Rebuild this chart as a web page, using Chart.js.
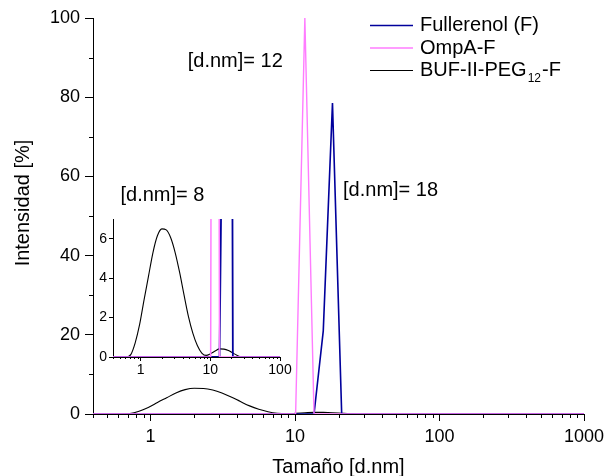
<!DOCTYPE html>
<html>
<head>
<meta charset="utf-8">
<script src="https://cdn.jsdelivr.net/npm/chart.js@4/dist/chart.umd.min.js"></script>
<style>
  html, body { margin: 0; padding: 0; background: #fff; }
  #wrap { position: relative; width: 605px; height: 476px; background: #fff; }
  #main { position: absolute; left: 0; top: 0; }
  #inset { position: absolute; left: 60px; top: 200px; }
</style>
</head>
<body>
<div id="wrap">
  <canvas id="main" width="605" height="476"></canvas>
  <canvas id="inset" width="240" height="190"></canvas>
</div>
<script>
// Size classes (hydrodynamic diameter, nm)
const sizes = [0.4, 0.4632, 0.5365, 0.6213, 0.7195, 0.8332, 0.9649, 1.117, 1.294, 1.499,
  1.736, 2.01, 2.328, 2.696, 3.122, 3.615, 4.187, 4.849, 5.615, 6.503,
  7.531, 8.721, 10.1, 11.7, 13.54, 15.69, 18.17, 21.04, 24.36, 28.21,
  32.67, 37.84, 43.82, 50.75, 58.77, 68.06, 78.82, 91.28, 105.7, 122.4,
  141.8, 164.2, 190.1, 220.2, 255, 295.3, 342, 396.1, 458.7, 531.2,
  615.1, 712.4, 825, 955.4, 1106];

// Intensity distributions (%)
const fullerenol = [0, 0, 0, 0, 0, 0, 0, 0, 0, 0,
  0, 0, 0, 0, 0, 0, 0, 0, 0, 0,
  0, 0, 0, 0, 0, 21, 78.5, 0, 0, 0,
  0, 0, 0, 0, 0, 0, 0, 0, 0, 0,
  0, 0, 0, 0, 0, 0, 0, 0, 0, 0,
  0, 0, 0, 0, 0];
const ompA = [0, 0, 0, 0, 0, 0, 0, 0, 0, 0,
  0, 0, 0, 0, 0, 0, 0, 0, 0, 0,
  0, 0, 0, 100, 0, 0, 0, 0, 0, 0,
  0, 0, 0, 0, 0, 0, 0, 0, 0, 0,
  0, 0, 0, 0, 0, 0, 0, 0, 0, 0,
  0, 0, 0, 0, 0];
const bufPeg = [0, 0, 0, 0, 0.12, 0.72, 1.65, 2.9, 4.1, 5.3,
  6.15, 6.5, 6.45, 6.05, 5.3, 4.3, 3.15, 2.05, 1.2, 0.58,
  0.2, 0.08, 0.17, 0.3, 0.41, 0.4, 0.33, 0.2, 0.08, 0,
  0, 0, 0, 0, 0, 0, 0, 0, 0, 0,
  0, 0, 0, 0, 0, 0, 0, 0, 0, 0,
  0, 0, 0, 0, 0];

const seriesNames = ['Fullerenol (F)', 'OmpA-F', 'BUF-II-PEG_12-F'];
const peakLabels = ['[d.nm]= 12', '[d.nm]= 18', '[d.nm]= 8'];

// Tick values
const mainXTicks = [0.4, 0.5, 0.6, 0.7, 0.8, 0.9, 1, 2, 3, 4, 5, 6, 7, 8, 9,
  10, 20, 30, 40, 50, 60, 70, 80, 90, 100, 200, 300, 400, 500, 600, 700, 800, 900, 1000];
const insetXTicks = [0.4, 0.5, 0.6, 0.7, 0.8, 0.9, 1, 2, 3, 4, 5, 6, 7, 8, 9,
  10, 20, 30, 40, 50, 60, 70, 80, 90, 100];

const FONT = '"Liberation Sans", Arial, Helvetica, sans-serif';
const BLUE = '#00009c';
const PINK = '#ff7cff';
const BLACK = '#000000';

const isDecade = v => Math.abs(Math.log10(v) - Math.round(Math.log10(v))) < 1e-6;
const toPoints = arr => sizes.map((s, i) => ({ x: s, y: arr[i] }));

function datasets(widths) {
  // first dataset is drawn on top
  return [
    { label: seriesNames[1], data: toPoints(ompA), borderColor: PINK, borderWidth: widths.pink, tension: 0 },
    { label: seriesNames[0], data: toPoints(fullerenol), borderColor: BLUE, borderWidth: widths.blue, tension: 0 },
    { label: seriesNames[2], data: toPoints(bufPeg), borderColor: BLACK, borderWidth: widths.black, cubicInterpolationMode: 'monotone' }
  ];
}

// keep the plot area where the axes put it, regardless of label overhang
const noOverhang = s => {
  s.paddingLeft = 0; s.paddingRight = 0; s.paddingTop = 0; s.paddingBottom = 0;
};

// short minor tick marks next to the library's major ones
const minorTicks = {
  id: 'minorTicks',
  afterDraw(chart, args, o) {
    const { ctx, scales: { x, y } } = chart;
    ctx.save();
    ctx.strokeStyle = '#000';
    ctx.lineWidth = 1;
    ctx.beginPath();
    x.ticks.forEach(t => {
      if (isDecade(t.value)) return;
      const px = Math.round(x.getPixelForValue(t.value)) + 0.5;
      ctx.moveTo(px, x.top);
      ctx.lineTo(px, x.top + o.len);
    });
    y.ticks.forEach(t => {
      if (t.value % o.yStep === 0) return;
      const py = Math.round(y.getPixelForValue(t.value)) + 0.5;
      ctx.moveTo(y.right, py);
      ctx.lineTo(y.right - o.len, py);
    });
    ctx.stroke();
    ctx.restore();
  }
};

// peak labels, legend and axis titles
const decorations = {
  id: 'decorations',
  afterDraw(chart, args, o) {
    const { ctx, scales: { x, y }, chartArea: a } = chart;
    ctx.save();
    ctx.fillStyle = '#000';
    ctx.textAlign = 'left';
    ctx.textBaseline = 'alphabetic';
    ctx.font = `20px ${FONT}`;
    o.peaks.forEach((p, i) => {
      ctx.fillText(peakLabels[i], x.getPixelForValue(p.x), y.getPixelForValue(p.y));
    });

    // legend
    const colors = [BLUE, PINK, BLACK];
    const widths = [1.5, 1.5, 1];
    const L = o.legend;
    seriesNames.forEach((name, i) => {
      const ly = L.top + i * L.row;
      ctx.strokeStyle = colors[i];
      ctx.lineWidth = widths[i];
      ctx.beginPath();
      ctx.moveTo(L.x0, ly + 0.5);
      ctx.lineTo(L.x1, ly + 0.5);
      ctx.stroke();
      let tx = L.text;
      const parts = name.split('_');
      ctx.font = `20px ${FONT}`;
      ctx.fillText(parts[0], tx, ly + L.shift);
      tx += ctx.measureText(parts[0]).width;
      if (parts.length > 1) {
        const sub = parts[1].match(/^(\d+)(.*)$/);
        ctx.font = `12px ${FONT}`;
        ctx.fillText(sub[1], tx + 1, ly + L.shift + 6);
        tx += ctx.measureText(sub[1]).width + 2;
        ctx.font = `20px ${FONT}`;
        ctx.fillText(sub[2], tx, ly + L.shift);
      }
    });

    // axis titles
    ctx.font = `20px ${FONT}`;
    ctx.textAlign = 'center';
    ctx.fillText('Tamaño [d.nm]', (a.left + a.right) / 2, chart.height - 3);
    ctx.translate(29, (a.top + a.bottom) / 2 - 13);
    ctx.rotate(-Math.PI / 2);
    ctx.fillText('Intensidad [%]', 0, 0);
    ctx.restore();
  }
};

Chart.register(minorTicks, decorations);

new Chart(document.getElementById('main'), {
  type: 'line',
  data: { datasets: datasets({ pink: 1.4, blue: 1.6, black: 1.1 }) },
  options: {
    responsive: false,
    animation: false,
    events: [],
    layout: { padding: { top: 18, right: 21, left: 0, bottom: 0 } },
    elements: { point: { radius: 0 } },
    scales: {
      x: {
        type: 'logarithmic', min: 0.4, max: 1000,
        afterBuildTicks: s => { s.ticks = mainXTicks.map(v => ({ value: v })); },
        afterFit: s => { s.height = 62; noOverhang(s); },
        ticks: {
          autoSkip: false, maxRotation: 0, minRotation: 0, padding: 5, color: '#000',
          font: { family: FONT, size: 18 },
          callback: v => (isDecade(v) ? String(v) : '')
        },
        grid: {
          drawOnChartArea: false, drawTicks: true, tickLength: 7,
          tickColor: c => (c.tick && isDecade(c.tick.value) ? '#000' : 'rgba(0,0,0,0)')
        },
        border: { display: true, color: '#000', width: 1 }
      },
      y: {
        type: 'linear', min: 0, max: 100,
        afterFit: s => { s.width = 93; noOverhang(s); },
        ticks: {
          stepSize: 10, padding: 5, color: '#000',
          font: { family: FONT, size: 18 },
          callback: v => (v % 20 === 0 ? String(v) : '')
        },
        grid: {
          drawOnChartArea: false, drawTicks: true, tickLength: 8,
          tickColor: c => (c.tick && c.tick.value % 20 === 0 ? '#000' : 'rgba(0,0,0,0)')
        },
        border: { display: true, color: '#000', width: 1 }
      }
    },
    plugins: {
      legend: { display: false },
      tooltip: { enabled: false },
      minorTicks: { len: 4, yStep: 20 },
      decorations: {
        peaks: [{ x: 1.81, y: 87.6 }, { x: 21.5, y: 55.1 }, { x: 0.62, y: 53.9 }],
        legend: { top: 25, row: 22.5, x0: 370, x1: 413, text: 420, shift: 6 }
      }
    }
  }
});

new Chart(document.getElementById('inset'), {
  type: 'line',
  data: { datasets: datasets({ pink: 1.5, blue: 1.8, black: 1.1 }) },
  options: {
    responsive: false,
    animation: false,
    events: [],
    layout: { padding: { top: 19, right: 20, left: 0, bottom: 0 } },
    elements: { point: { radius: 0 } },
    scales: {
      x: {
        type: 'logarithmic', min: 0.4, max: 100,
        afterBuildTicks: s => { s.ticks = insetXTicks.map(v => ({ value: v })); },
        afterFit: s => { s.height = 33; noOverhang(s); },
        ticks: {
          autoSkip: false, maxRotation: 0, minRotation: 0, padding: 1, color: '#000',
          font: { family: FONT, size: 14 },
          callback: v => (isDecade(v) ? String(v) : '')
        },
        grid: {
          drawOnChartArea: false, drawTicks: true, tickLength: 4,
          tickColor: c => (c.tick && isDecade(c.tick.value) ? '#000' : 'rgba(0,0,0,0)')
        },
        border: { display: true, color: '#000', width: 1 }
      },
      y: {
        type: 'linear', min: 0, max: 7,
        afterFit: s => { s.width = 53; noOverhang(s); },
        ticks: {
          stepSize: 1, padding: 2, color: '#000',
          font: { family: FONT, size: 14 },
          callback: v => (v % 2 === 0 ? String(v) : '')
        },
        grid: {
          drawOnChartArea: false, drawTicks: true, tickLength: 4,
          tickColor: c => (c.tick && c.tick.value % 2 === 0 ? '#000' : 'rgba(0,0,0,0)')
        },
        border: { display: true, color: '#000', width: 1 }
      }
    },
    plugins: {
      legend: { display: false },
      tooltip: { enabled: false },
      minorTicks: { len: 2, yStep: 2 },
      decorations: false
    }
  }
});
</script>
</body>
</html>
